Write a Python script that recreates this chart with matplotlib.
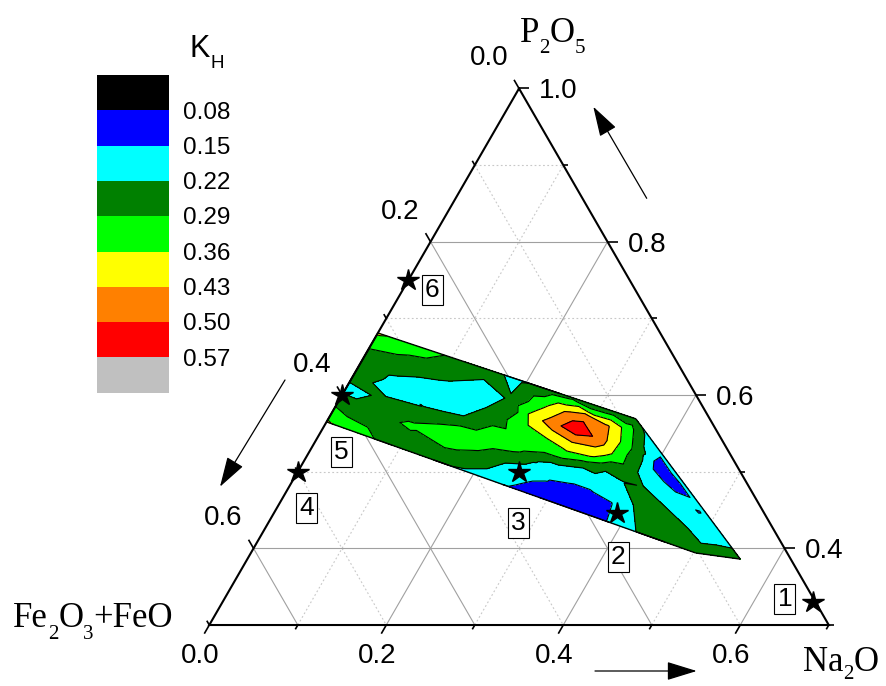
import numpy as np
import matplotlib
matplotlib.use("Agg")
import matplotlib.pyplot as plt
import matplotlib.tri as mtri
import matplotlib.transforms as mtransforms
from matplotlib.collections import LineCollection
from matplotlib.patches import Rectangle

plt.rcParams['font.family'] = ['Liberation Sans', 'DejaVu Sans']

# K_H contour levels and the colour of each band (below first level ... above last)
levels = [0.08, 0.15, 0.22, 0.29, 0.36, 0.43, 0.50, 0.57]
band_colors = ['#000000', '#0000ff', '#00ffff', '#008000', '#00ff00',
               '#ffff00', '#ff8000', '#ff0000', '#c0c0c0']

# sampled compositions (mole fractions; Fe2O3+FeO is the remainder) and K_H
na2o = [
    0.00, 0.00, 0.00, 0.00, 0.00, 0.00,
    0.05, 0.05, 0.05, 0.05, 0.05, 0.05, 0.05,
    0.10, 0.10, 0.10, 0.10, 0.10, 0.10,
    0.15, 0.15, 0.15, 0.15, 0.15, 0.15, 0.15,
    0.19, 0.19, 0.19, 0.19, 0.19, 0.19,
    0.23, 0.23, 0.23, 0.23, 0.23, 0.23, 0.23,
    0.26, 0.26, 0.26, 0.26, 0.26, 0.26, 0.26, 0.26,
    0.29, 0.29, 0.29, 0.29, 0.29, 0.29, 0.29, 0.29, 0.29, 0.29,
    0.32, 0.32, 0.32, 0.32, 0.32, 0.32, 0.32, 0.32, 0.32,
    0.3475, 0.3475, 0.3475, 0.3475, 0.3475, 0.3475, 0.3475, 0.3475,
    0.375, 0.375, 0.375, 0.375, 0.375, 0.375,
    0.40, 0.40, 0.40, 0.40, 0.40, 0.40, 0.40,
    0.44, 0.44, 0.44, 0.44, 0.44, 0.44,
    0.48, 0.48, 0.48, 0.48, 0.48,
    0.5026, 0.5026, 0.5026, 0.5026,
    0.53,
    0.557,
]
p2o5 = [
    0.565, 0.5877, 0.6092, 0.6267, 0.658, 0.681,
    0.548, 0.5714, 0.5948, 0.6065, 0.6181, 0.6415, 0.6649,
    0.531, 0.5605, 0.584, 0.604, 0.6252, 0.6488,
    0.514, 0.546, 0.5615, 0.5734, 0.5971, 0.6208, 0.6327,
    0.5004, 0.5243, 0.5422, 0.572, 0.5959, 0.6198,
    0.4868, 0.5108, 0.5348, 0.5589, 0.5709, 0.5889, 0.6069,
    0.4765, 0.5006, 0.5151, 0.5308, 0.5465, 0.561, 0.5803, 0.5972,
    0.4663, 0.4857, 0.5027, 0.5148, 0.5269, 0.539, 0.556, 0.573, 0.579, 0.5875,
    0.4561, 0.4805, 0.4987, 0.5109, 0.5231, 0.5414, 0.5596, 0.5694, 0.5779,
    0.4468, 0.4712, 0.4896, 0.5042, 0.5201, 0.5385, 0.5568, 0.569,
    0.4374, 0.4589, 0.4858, 0.502, 0.5235, 0.545,
    0.4289, 0.4572, 0.4694, 0.4807, 0.4948, 0.5118, 0.5231,
    0.4153, 0.4408, 0.4532, 0.4663, 0.4795, 0.4882,
    0.4017, 0.4249, 0.4378, 0.4476, 0.4533,
    0.394, 0.407, 0.4197, 0.4335,
    0.4096,
    0.386,
]
k_h = [
    0.37, 0.28, 0.19, 0.26, 0.28, 0.37,
    0.305, 0.27, 0.235, 0.185, 0.205, 0.257, 0.33,
    0.255, 0.30, 0.222, 0.18, 0.235, 0.28,
    0.23, 0.34, 0.285, 0.218, 0.175, 0.221, 0.235,
    0.21, 0.28, 0.335, 0.26, 0.225, 0.205,
    0.17, 0.218, 0.33, 0.355, 0.39, 0.33, 0.25,
    0.135, 0.18, 0.23, 0.32, 0.37, 0.48, 0.42, 0.27,
    0.10, 0.145, 0.17, 0.27, 0.358, 0.432, 0.56, 0.45, 0.33, 0.225,
    0.09, 0.145, 0.17, 0.27, 0.39, 0.47, 0.44, 0.34, 0.24,
    0.10, 0.145, 0.19, 0.23, 0.34, 0.35, 0.31, 0.25,
    0.14, 0.148, 0.218, 0.25, 0.24, 0.19,
    0.18, 0.219, 0.26, 0.221, 0.17, 0.13, 0.16,
    0.255, 0.26, 0.219, 0.175, 0.13, 0.165,
    0.26, 0.219, 0.17, 0.146, 0.17,
    0.26, 0.219, 0.19, 0.18,
    0.20,
    0.25,
]

# marked compositions
mark_labels = ['1', '2', '3', '4', '5', '6']
mark_na2o = [0.667, 0.388, 0.250, 0.000, 0.000, 0.000]
mark_p2o5 = [0.330, 0.446, 0.500, 0.500, 0.600, 0.750]
# label box offset from its star, in pixels (right, down)
mark_box_offset = [(-28, -3), (1, 44), (-1, 51), (9, 36), (-1, 57), (24, 10)]

# visible part of the diagram: P2O5 >= 0.3
p_min = 0.3
axis_ticks = [0.0, 0.1, 0.2, 0.3, 0.4, 0.5, 0.6, 0.7]
major_ticks = [0.0, 0.2, 0.4, 0.6]
p_major_ticks = [1.0, 0.8, 0.6, 0.4]
grid_steps = [0.1, 0.2, 0.3, 0.4, 0.5, 0.6]

S3 = np.sqrt(3) / 2


def cart(na, p):
    na = np.asarray(na, float)
    p = np.asarray(p, float)
    return na + p / 2, p * S3


fig = plt.figure(figsize=(8.87, 6.86), dpi=100)
ax = fig.add_axes([0, 0, 1, 1])
ax.set_xlim(-0.0865, 0.9158)
ax.set_ylim(0.1909, 0.9660)
ax.axis('off')
UNIT = 1 / 885.0  # data units per pixel

# pixel coordinates from the top-left corner of the figure
pix = mtransforms.Affine2D().scale(1 / 887, -1 / 686).translate(0, 1) + fig.transFigure


def near(v, values):
    return any(abs(v - m) < 1e-9 for m in values)


# ---- grid
major_style = dict(color='#a0a0a0', lw=0.8, zorder=1)
minor_style = dict(color='#c8c8c8', lw=0.8, ls=(0, (1.6, 2.2)), zorder=1)
for g in grid_steps:
    style = major_style if near(g, major_ticks) else minor_style
    # constant Na2O
    xs, ys = cart([g, g], [p_min, 1 - g])
    ax.plot(xs, ys, **style)
    # constant Fe2O3+FeO
    xs, ys = cart([0, 1 - p_min - g], [1 - g, p_min])
    ax.plot(xs, ys, **style)
    # constant P2O5
    pv = 1 - g
    if pv > p_min + 1e-9:
        xs, ys = cart([0, 1 - pv], [pv, pv])
        ax.plot(xs, ys, **(major_style if near(pv, p_major_ticks) else minor_style))

# ---- triangle frame
fx, fy = cart([0, 0, 1 - p_min, 0], [1, p_min, p_min, 1])
ax.plot(fx, fy, color='black', lw=1.5, zorder=8, solid_joinstyle='miter')

# ---- ticks
tick_segs = []
for v in axis_ticks:
    ln = (10 if near(v, major_ticks) else 5) * UNIT
    # Na2O along the bottom
    bx, by = cart(v, p_min)
    tick_segs.append([(bx, by), (bx - 0.5 * ln, by - S3 * ln)])
    # P2O5 along the right side
    pv = 1 - v
    rx, ry = cart(1 - pv, pv)
    ln_r = (10 if near(pv, p_major_ticks) else 5) * UNIT
    tick_segs.append([(rx, ry), (rx + ln_r, ry)])
    # Fe2O3+FeO along the left side
    lx, ly = cart(0, 1 - v)
    tick_segs.append([(lx, ly), (lx - 0.5 * ln, ly + S3 * ln)])
ax.add_collection(LineCollection(tick_segs, colors='black', linewidths=1.2, zorder=8))


def offset(dx, dy):
    return mtransforms.offset_copy(ax.transData, fig=fig, x=dx, y=-dy, units='dots')


tick_font = dict(fontsize=20, color='black', va='baseline', zorder=9)
for v, pv in zip(major_ticks, p_major_ticks):
    bx, by = cart(v, p_min)
    ax.text(bx, by, f'{v:.1f}', ha='center', transform=offset(-9.5, 38), **tick_font)
    lx, ly = cart(0, 1 - v)
    ax.text(lx, ly, f'{v:.1f}', ha='center', transform=offset(-30, -23), **tick_font)
    rx, ry = cart(1 - pv, pv)
    ax.text(rx, ry, f'{pv:.1f}', ha='left', transform=offset(20, 10), **tick_font)

# ---- K_H field
x, y = cart(na2o, p2o5)
tri = mtri.Triangulation(x, y)
ax.tricontourf(tri, k_h, levels=[0.0] + levels + [1.0], colors=band_colors, zorder=3)
ax.tricontour(tri, k_h, levels=levels, colors='black', linewidths=0.8, zorder=4)

edge_segs = []
for tr, nb in zip(tri.triangles, tri.neighbors):
    for j in range(3):
        if nb[j] == -1:
            a, b = tr[j], tr[(j + 1) % 3]
            edge_segs.append([(x[a], y[a]), (x[b], y[b])])
ax.add_collection(LineCollection(edge_segs, colors='black', linewidths=1.0, zorder=5))

# ---- marked compositions
sx, sy = cart(mark_na2o, mark_p2o5)
ax.plot(sx, sy, linestyle='none', marker='*', ms=16, color='black', zorder=10)
for lab, px_, py_, (dx, dy) in zip(mark_labels, sx, sy, mark_box_offset):
    ax.annotate(lab, (px_, py_), xytext=(dx, -dy), textcoords='offset pixels',
                ha='center', va='center', fontsize=19, zorder=11,
                bbox=dict(boxstyle='square,pad=0.12', fc='white', ec='black', lw=0.8))

# ---- component names (serif, with lowered subscripts)
renderer = fig.canvas.get_renderer()


def formula(x0, base, pieces, size=25, sub_size=15, drop=11):
    xc = x0
    for s, is_sub in pieces:
        t = ax.text(xc, base + (drop if is_sub else 0), s, transform=pix,
                    fontfamily='Liberation Serif', fontsize=sub_size if is_sub else size,
                    va='baseline', ha='left', zorder=9)
        xc += t.get_window_extent(renderer).width


formula(520, 42, [('P', False), ('2', True), ('O', False), ('5', True)])
formula(803, 671, [('Na', False), ('2', True), ('O', False)], drop=8)
formula(13, 627, [('Fe', False), ('2', True), ('O', False), ('3', True), ('+FeO', False)], drop=12)

# ---- direction arrows
arrows = [((646.7, 198.3), (593.3, 106.7)),
          ((285.0, 380.0), (220.0, 486.7)),
          ((595.0, 671.0), (696.7, 671.0))]
for tail, tip in arrows:
    ax.annotate('', xy=tip, xytext=tail, xycoords=pix, textcoords=pix,
                arrowprops=dict(arrowstyle='-|>,head_length=0.94,head_width=0.29',
                                mutation_scale=20, lw=0.9, color='black',
                                shrinkA=0, shrinkB=0))

# ---- colour scale
box_left, box_right, box_top, box_h = 96.7, 169.0, 75.0, 35.3
for i, c in enumerate(band_colors):
    ax.add_patch(Rectangle((box_left, box_top + i * box_h), box_right - box_left, box_h,
                           transform=pix, fc=c, ec='none', zorder=7))
for i, lv in enumerate(levels):
    ax.text(182.7, box_top + (i + 1) * box_h + 8.3, f'{lv:.2f}', transform=pix,
            fontsize=17.5, va='baseline', ha='left', zorder=9)
ax.text(190, 57, 'K', transform=pix, fontsize=22, va='baseline', ha='left')
ax.text(211, 68.3, 'H', transform=pix, fontsize=13.5, va='baseline', ha='left')

fig.savefig('out.png', dpi=100)
